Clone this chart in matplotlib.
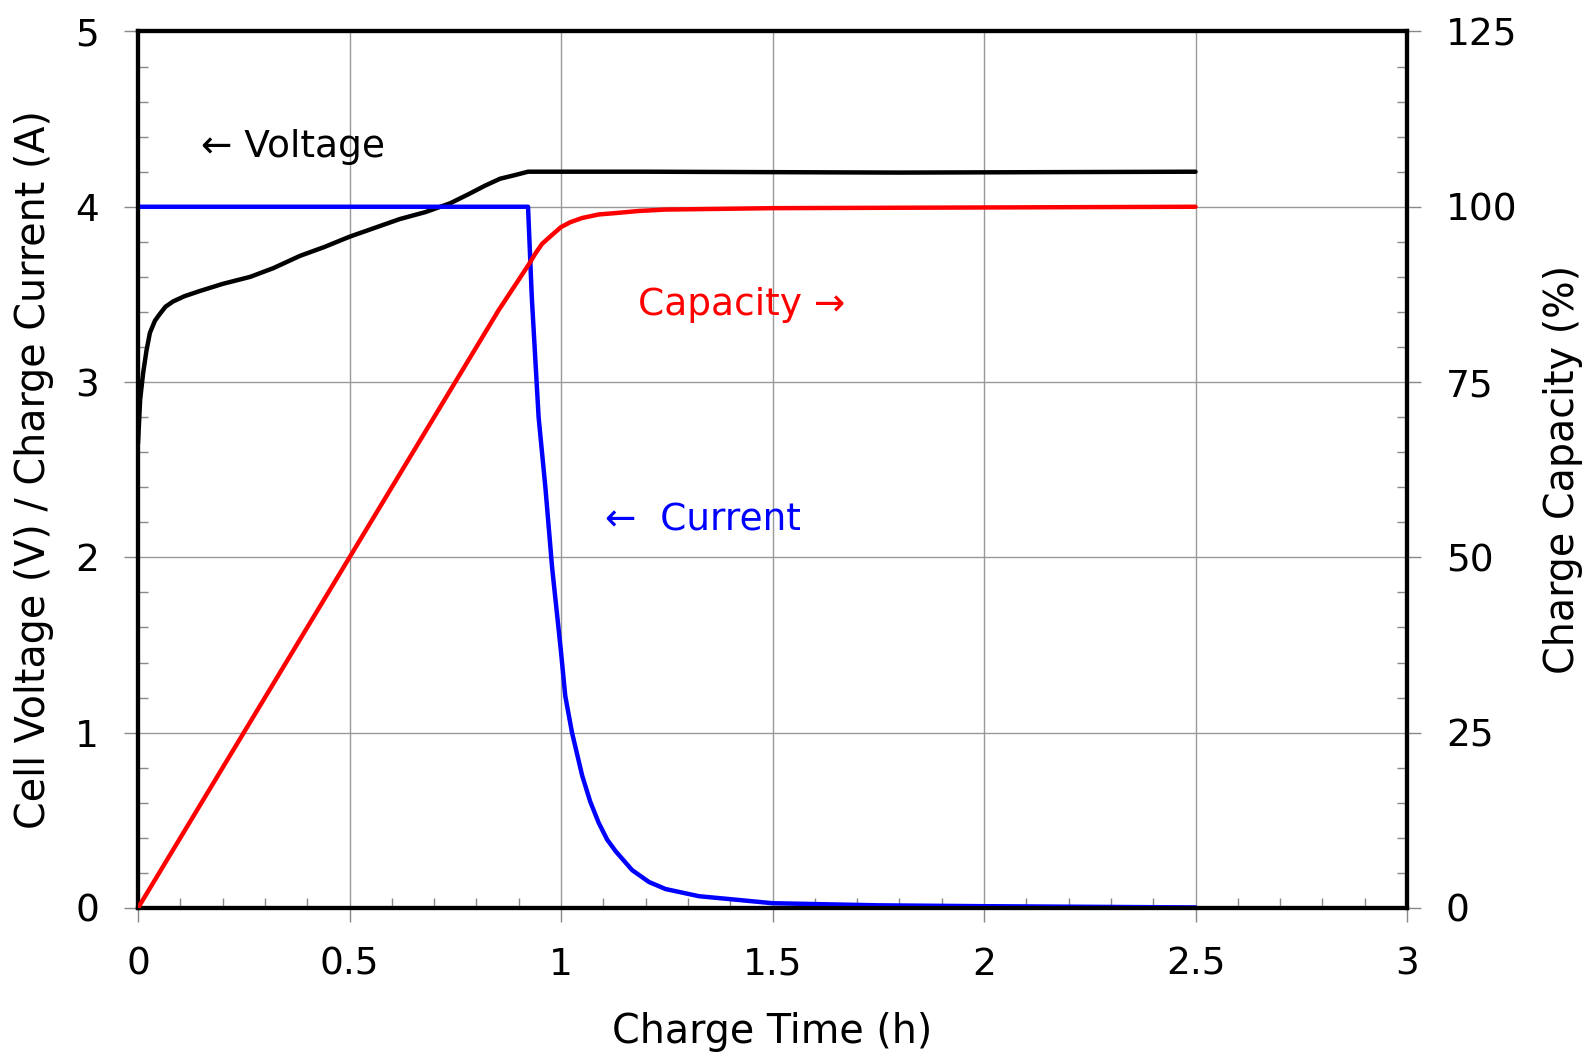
import matplotlib.pyplot as plt
import numpy as np
from matplotlib.ticker import MultipleLocator

# data
volt_t = [0, 0.005, 0.012, 0.02, 0.028, 0.04, 0.052, 0.065, 0.083, 0.11, 0.147,
          0.2, 0.265, 0.32, 0.383, 0.44, 0.501, 0.56, 0.619, 0.68, 0.738, 0.78,
          0.82, 0.856, 0.89, 0.922, 1.2, 1.8, 2.5]
volt_v = [2.65, 2.9, 3.05, 3.18, 3.28, 3.35, 3.39, 3.43, 3.46, 3.49, 3.52,
          3.56, 3.60, 3.65, 3.72, 3.77, 3.83, 3.88, 3.93, 3.97, 4.02, 4.07,
          4.12, 4.16, 4.18, 4.20, 4.20, 4.195, 4.20]

curr_t = [0, 0.922, 0.931, 0.947, 0.963, 0.979, 1.0, 1.01, 1.026, 1.05, 1.069,
          1.089, 1.109, 1.129, 1.168, 1.208, 1.247, 1.326, 1.405, 1.5, 1.75,
          2.0, 2.5]
curr_a = [4.0, 4.0, 3.48, 2.80, 2.40, 1.94, 1.46, 1.21, 1.0, 0.755, 0.607,
          0.486, 0.39, 0.324, 0.216, 0.148, 0.108, 0.067, 0.049, 0.027, 0.015,
          0.01, 0.003]

cap_t = [0, 0.5, 0.852, 0.923, 0.939, 0.955, 0.979, 1.0, 1.022, 1.05, 1.089,
         1.129, 1.184, 1.247, 1.5, 2.0, 2.5]
cap_pct = [0, 50, 85.2, 91.7, 93.3, 94.7, 96.0, 97.1, 97.8, 98.4, 98.9,
           99.1, 99.4, 99.6, 99.8, 99.9, 100]

plt.rcParams['font.family'] = 'DejaVu Sans'
fs = 27
lfs = 28.5

fig = plt.figure(figsize=(15.92, 10.56), dpi=100)
ax = fig.add_axes([0.0867, 0.1402, 0.7971, 0.8300])
ax2 = ax.twinx()

line_kw = dict(lw=3.2, zorder=3, solid_joinstyle='round', solid_capstyle='round')
ax.plot(volt_t, volt_v, color='black', **line_kw)
ax.plot(curr_t, curr_a, color='#0000ff', **line_kw)
ax2.plot(cap_t, cap_pct, color='#ff0000', **line_kw)

ax.set_xlim(0, 3)
ax.set_ylim(0, 5)
ax2.set_ylim(0, 125)

ax.xaxis.set_major_locator(MultipleLocator(0.5))
ax.xaxis.set_minor_locator(MultipleLocator(0.1))
ax.yaxis.set_major_locator(MultipleLocator(1))
ax.yaxis.set_minor_locator(MultipleLocator(0.2))
ax2.yaxis.set_major_locator(MultipleLocator(25))
ax2.yaxis.set_minor_locator(MultipleLocator(5))
ax.xaxis.set_major_formatter(plt.FuncFormatter(lambda v, p: f'{v:g}'))

ax.grid(True, which='major', color='#999999', lw=1)
ax.set_axisbelow(True)

for a in (ax, ax2):
    a.tick_params(which='major', direction='out', length=10, width=1,
                  color='#888888', labelsize=fs, pad=18)
    a.tick_params(which='minor', direction='in', length=7, width=1,
                  color='#888888')
    for s in a.spines.values():
        s.set_linewidth(3)
        s.set_color('black')
ax.tick_params(which='both', top=False, right=False)

ax.set_xlabel('Charge Time (h)', fontsize=lfs)
ax.xaxis.set_label_coords(0.4996, -0.1415)
ax.xaxis.label.set_va('center')
ax.set_ylabel('Cell Voltage (V) / Charge Current (A)', fontsize=lfs)
ax.yaxis.set_label_coords(-0.0823, 0.5)
ax.yaxis.label.set_va('center')
ax2.set_ylabel('Charge Capacity (%)', fontsize=lfs, rotation=90)
ax2.yaxis.set_label_coords(1.123, 0.5)
ax2.yaxis.label.set_va('center')

# inline labels
ax.text(0.149, 4.34, '\u2190 Voltage', color='black', fontsize=fs,
        ha='left', va='center')
ax.text(1.182, 3.44, 'Capacity \u2192', color='#ff0000', fontsize=fs,
        ha='left', va='center')
ax.text(1.104, 2.21, '\u2190  Current', color='#0000ff', fontsize=fs,
        ha='left', va='center')

fig.savefig('out.png', dpi=100, facecolor='white')
